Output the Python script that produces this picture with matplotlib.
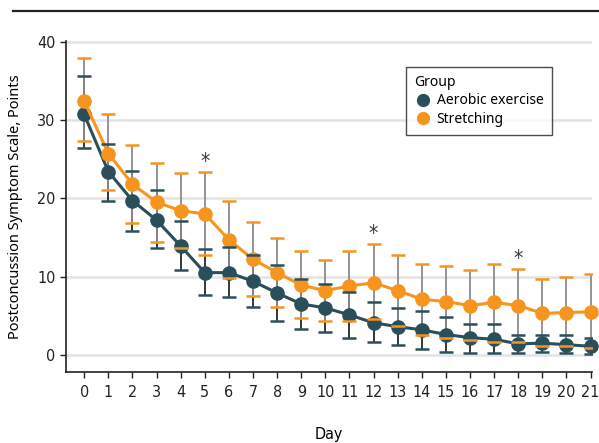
import numpy as np
import matplotlib
matplotlib.use("Agg")
import matplotlib.pyplot as plt
from matplotlib.lines import Line2D

# -----------------------------
# Data
# -----------------------------
days = list(range(22))

aerobic = [30.7, 23.4, 19.7, 17.2, 13.9, 10.5, 10.5, 9.4, 7.9, 6.5, 6.0,
           5.1, 4.1, 3.6, 3.2, 2.6, 2.2, 2.0, 1.4, 1.5, 1.3, 1.1]
aerobic_hi = [35.6, 26.9, 23.5, 21.0, 17.1, 13.5, 13.8, 12.7, 11.5, 9.7, 9.1,
              8.0, 6.7, 6.0, 5.6, 4.8, 4.0, 3.9, 2.6, 2.6, 2.5, 2.1]
aerobic_lo = [26.4, 19.6, 15.8, 13.7, 10.8, 7.6, 7.4, 6.1, 4.3, 3.3, 2.9,
              2.2, 1.7, 1.3, 0.8, 0.4, 0.3, 0.2, 0.2, 0.4, 0.3, 0.1]

stretching = [32.4, 25.7, 21.8, 19.5, 18.4, 18.0, 14.7, 12.2, 10.5, 8.9, 8.2,
              8.8, 9.2, 8.2, 7.1, 6.8, 6.3, 6.7, 6.3, 5.3, 5.4, 5.5]
stretching_hi = [37.9, 30.8, 26.8, 24.5, 23.2, 23.3, 19.6, 17.0, 14.9, 13.2, 12.1,
                 13.3, 14.1, 12.8, 11.6, 11.4, 10.8, 11.6, 10.9, 9.7, 10.0, 10.3]
stretching_lo = [27.3, 21.0, 16.8, 14.4, 13.7, 12.8, 9.8, 7.5, 6.1, 4.7, 4.3,
                 4.3, 4.6, 3.7, 2.6, 2.2, 1.9, 1.7, 1.7, 1.1, 1.1, 0.9]

star_days = [5, 12, 18]

DARK = "#2a4f5b"
ORANGE = "#f7941d"

plt.rcParams["font.family"] = ["DejaVu Sans"]
plt.rcParams["font.stretch"] = "condensed"

fig = plt.figure(figsize=(5.99, 4.43), dpi=100)
ax = fig.add_axes([0.110, 0.160, 0.878, 0.748])

# linha no topo da figura
fig.add_artist(Line2D([0.022, 1.0], [0.976, 0.976], color="#222222", lw=1.6))

for v in [0, 10, 20, 30, 40]:
    ax.axhline(v, color="#e3e3e3", lw=1.8, zorder=0)

def draw_group(mean, lo, hi, color, vcolor, z):
    m = np.array(mean)
    yerr = [m - np.array(lo), np.array(hi) - m]
    _, caps, bars = ax.errorbar(days, m, yerr=yerr, fmt="none", ecolor=vcolor,
                                elinewidth=1.3, capsize=5, capthick=1.8, zorder=z)
    for c in caps:
        c.set_markeredgecolor(color)
        c.set_markerfacecolor(color)
        c.set_zorder(z + 4)
    ax.plot(days, m, "-o", color=color, lw=2.2, ms=9.5, zorder=z + 2, clip_on=False)

draw_group(aerobic, aerobic_lo, aerobic_hi, DARK, "#262626", 2)
draw_group(stretching, stretching_lo, stretching_hi, ORANGE, "#8c8c8c", 3)

for d in star_days:
    ax.text(d, stretching_hi[d] + 0.1, "*", ha="center", va="bottom",
            fontsize=15, color="#3a3a3a")

ax.set_xlim(-0.76, 21.05)
ax.set_ylim(-2.2, 40.1)
ax.set_xticks(days)
ax.set_yticks([0, 10, 20, 30, 40])
ax.tick_params(axis="both", labelsize=11.5, colors="#222222", length=4, width=1)
ax.tick_params(axis="x", pad=5)

for s in ["top", "right"]:
    ax.spines[s].set_visible(False)
for s in ["left", "bottom"]:
    ax.spines[s].set_color("#222222")
    ax.spines[s].set_linewidth(1.2)

ax.set_xlabel("Day", fontsize=11.5, labelpad=20)
ax.set_ylabel("Postconcussion Symptom Scale, Points", fontsize=10.5,
              family=["Noto Sans", "DejaVu Sans"], fontstretch="normal", labelpad=10)

handles = [
    Line2D([], [], marker="o", ls="none", color=DARK, ms=8.5, label="Aerobic exercise"),
    Line2D([], [], marker="o", ls="none", color=ORANGE, ms=8.5, label="Stretching"),
]
leg = ax.legend(handles=handles, title="Group", loc="upper right",
                bbox_to_anchor=(0.937, 0.943), frameon=True, fancybox=False,
                handletextpad=0.4, handlelength=1.2, borderpad=0.6,
                labelspacing=0.25,
                prop={"family": ["Noto Sans", "DejaVu Sans"], "size": 10, "stretch": "normal"},
                title_fontproperties={"family": ["Noto Sans", "DejaVu Sans"], "size": 10,
                                      "stretch": "normal"})
leg._legend_box.align = "left"
leg.get_frame().set_edgecolor("#222222")
leg.get_frame().set_linewidth(1.0)

fig.savefig("out.png", dpi=100)
